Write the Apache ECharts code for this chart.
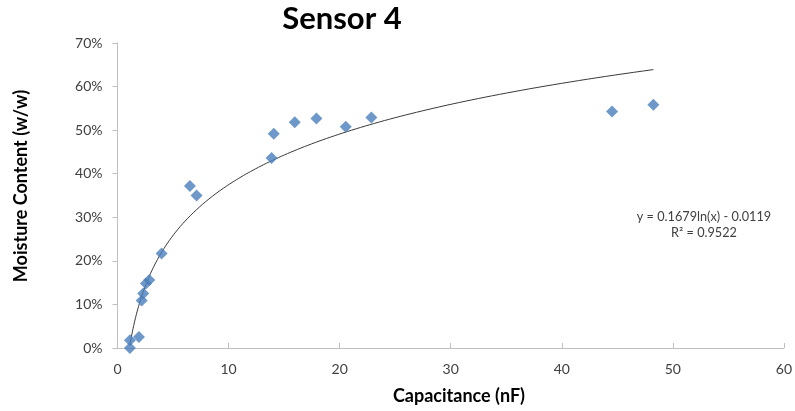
<!DOCTYPE html>
<html>
<head>
<meta charset="utf-8">
<script src="https://cdn.jsdelivr.net/npm/echarts@6/dist/echarts.min.js"></script>
<style>html,body{margin:0;padding:0;background:#fff;}#c{width:795px;height:411px;}</style>
</head>
<body>
<div id="c"></div>
<script>
// Measured points: capacitance (nF) and moisture content (fraction)
const capacitance = [1.12, 1.12, 1.93, 2.18, 2.32, 2.56, 2.86, 3.97, 6.52, 7.12, 13.87, 14.07, 15.96, 17.91, 20.55, 22.86, 44.53, 48.25];
const moisture    = [0.018, 0.000, 0.025, 0.109, 0.125, 0.148, 0.156, 0.217, 0.372, 0.350, 0.436, 0.492, 0.518, 0.527, 0.508, 0.529, 0.543, 0.558];
// Regression shown on the chart: y = a*ln(x) + b
const trendCoef = [0.1679, -0.0119];
const trendRange = [1.12, 48.25];
const xTicks = [0, 10, 20, 30, 40, 50, 60];
const yTicks = [0, 0.1, 0.2, 0.3, 0.4, 0.5, 0.6, 0.7];

const points = capacitance.map((x, i) => [x, moisture[i]]);
const trend = [];
const steps = 200;
for (let i = 0; i <= steps; i++) {
  const x = trendRange[0] * Math.pow(trendRange[1] / trendRange[0], i / steps);
  trend.push([x, trendCoef[0] * Math.log(x) + trendCoef[1]]);
}

const chart = echarts.init(document.getElementById('c'));
const font = 'Lato, "Open Sans", sans-serif';
chart.setOption({
  animation: false,
  backgroundColor: '#ffffff',
  grid: { left: 117.5, right: 10, top: 43, bottom: 63 },
  xAxis: {
    type: 'value', min: xTicks[0], max: xTicks[xTicks.length - 1], interval: 10,
    axisLine: { show: true, lineStyle: { color: '#bfbfbf', width: 1 } },
    axisTick: { show: true, inside: true, length: 5, lineStyle: { color: '#bfbfbf' } },
    splitLine: { show: false },
    axisLabel: { color: '#404040', fontSize: 14, fontFamily: font, margin: 14 }
  },
  yAxis: {
    type: 'value', min: yTicks[0], max: yTicks[yTicks.length - 1], interval: 0.1,
    axisLine: { show: true, lineStyle: { color: '#bfbfbf', width: 1 } },
    axisTick: { show: true, length: 5, lineStyle: { color: '#bfbfbf' } },
    splitLine: { show: false },
    axisLabel: { color: '#404040', fontSize: 14, fontFamily: font, margin: 15,
      formatter: v => Math.round(v * 100) + '%' }
  },
  series: [
    {
      type: 'line', data: trend, showSymbol: false, symbol: 'none', smooth: false,
      lineStyle: { color: '#3a3a3a', width: 1 }, silent: true, z: 2
    },
    {
      type: 'scatter', data: points, symbol: 'diamond', symbolSize: 12,
      itemStyle: { color: '#4a7ebb' }, z: 3
    }
  ],
  graphic: [
    { type: 'text', x: 342, y: 19, style: { text: 'Sensor 4', font: 'bold 31px ' + font, fill: '#000', textAlign: 'center', textVerticalAlign: 'middle' } },
    { type: 'text', x: 21, y: 186, rotation: Math.PI / 2, style: { text: 'Moisture Content (w/w)', font: 'bold 18px ' + font, fill: '#000', textAlign: 'center', textVerticalAlign: 'middle' } },
    { type: 'text', x: 459, y: 396, style: { text: 'Capacitance (nF)', font: 'bold 18px ' + font, fill: '#000', textAlign: 'center', textVerticalAlign: 'middle' } },
    { type: 'text', x: 704, y: 217, style: { text: 'y = 0.1679ln(x) - 0.0119', font: '12.7px ' + font, fill: '#404040', textAlign: 'center', textVerticalAlign: 'middle' } },
    { type: 'text', x: 704, y: 233, style: { text: 'R² = 0.9522', font: '12.7px ' + font, fill: '#404040', textAlign: 'center', textVerticalAlign: 'middle' } }
  ]
});
</script>
</body>
</html>
